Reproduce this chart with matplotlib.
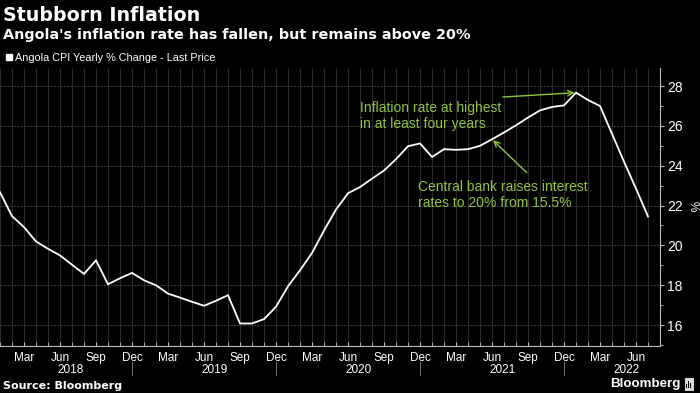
import matplotlib
matplotlib.use('Agg')
import matplotlib.pyplot as plt
from matplotlib.ticker import FixedLocator, MultipleLocator
from matplotlib.patches import Rectangle
from matplotlib.lines import Line2D

# Angola CPI yearly % change, monthly Jan 2018 .. Jul 2022
start_year = 2018
cpi = [22.67, 21.47, 20.92, 20.20, 19.83, 19.50, 19.03, 18.57, 19.25, 18.05, 18.35, 18.62,
       18.25, 18.00, 17.58, 17.38, 17.17, 16.97, 17.22, 17.50, 16.08, 16.08, 16.30, 16.92,
       17.95, 18.75, 19.62, 20.75, 21.80, 22.62, 22.93, 23.35, 23.76, 24.33, 24.98, 25.12,
       24.44, 24.83, 24.80, 24.83, 25.00, 25.33, 25.67, 26.03, 26.42, 26.78, 26.95, 27.03,
       27.67, 27.30, 27.00, 25.60, 24.20, 22.85, 21.45]
month_names = ['Jan', 'Feb', 'Mar', 'Apr', 'May', 'Jun',
               'Jul', 'Aug', 'Sep', 'Oct', 'Nov', 'Dec']
quarter_months = ['Mar', 'Jun', 'Sep', 'Dec']
years = [2018, 2019, 2020, 2021, 2022]
y_ticks = [16, 18, 20, 22, 24, 26, 28]

title = 'Stubborn Inflation'
subtitle = "Angola's inflation rate has fallen, but remains above 20%"
series_name = 'Angola CPI Yearly % Change - Last Price'
note_peak = 'Inflation rate at highest\nin at least four years'
note_hike = 'Central bank raises interest\nrates to 20% from 15.5%'
hike_month = (2021, 'Jun')

GREEN = '#8fc63e'
GRID = '#2a2a2a'
AXIS = '#bdbdbd'
NARROW = ['Liberation Sans', 'DejaVu Sans']

x = list(range(len(cpi)))
labels = [month_names[i % 12] for i in x]

fig = plt.figure(figsize=(7.0, 3.93), dpi=100, facecolor='black')
ax = fig.add_axes([0.0, 0.1196, 0.9429, 0.707], facecolor='black')

ax.plot(x, cpi, color='white', lw=1.3, solid_joinstyle='miter', zorder=3)

ax.set_xlim(0, 55)
ax.set_ylim(14.95, 28.9)

# x axis: a grid line every month, labels each quarter
qpos = [i for i in x if labels[i] in quarter_months]
ax.xaxis.set_major_locator(FixedLocator(qpos))
ax.set_xticklabels([labels[i] for i in qpos], family=NARROW, fontsize=8.5, color='white')
ax.xaxis.set_minor_locator(MultipleLocator(1))
ax.tick_params(axis='x', which='both', direction='in', length=3, color=AXIS, pad=4)

# y axis on the right
ax.yaxis.tick_right()
ax.set_yticks(y_ticks)
ax.set_yticklabels([str(v) for v in y_ticks], family=NARROW, fontsize=10, color='white')
ax.yaxis.set_minor_locator(MultipleLocator(1))
ax.tick_params(axis='y', which='major', direction='out', length=3, color=AXIS, pad=2)
ax.tick_params(axis='y', which='minor', direction='out', length=2, color=AXIS)
# unit label sits right of the tick labels, level with 22
fig.text(693 / 700, 1 - 206 / 393, '%', rotation=270, color='white', fontsize=8.5,
         family=NARROW, ha='center', va='center')

ax.grid(axis='x', which='both', color=GRID, lw=0.8)
ax.grid(axis='y', which='major', color='#383838', lw=0.8, ls=(0, (2, 1)))

for side in ['left', 'top']:
    ax.spines[side].set_visible(False)
ax.spines['right'].set_color(AXIS)
ax.spines['bottom'].set_color(AXIS)

# year labels and separators under the month labels
for k, yr in enumerate(years):
    pos = 12 * k + 5.9
    if yr == years[-1]:
        pos = 52.2
    ax.text(pos, -0.085, str(yr), transform=ax.get_xaxis_transform(),
            ha='center', va='center', color='white', fontsize=8.5, family=NARROW)
    if k > 0:
        sep = 12 * k - 1
        ax.plot([sep, sep], [-0.058, -0.104], transform=ax.get_xaxis_transform(),
                color='#6a6a6a', lw=0.8, clip_on=False)

# annotations
peak = cpi.index(max(cpi))
hike = (hike_month[0] - start_year) * 12 + month_names.index(hike_month[1])
ax.text(30.0, 26.5, note_peak, color=GREEN, fontsize=10, family=NARROW,
        va='center', ha='left', linespacing=1.2)
ax.annotate('', xy=(peak, cpi[peak]), xytext=(41.9, 27.45),
            arrowprops=dict(arrowstyle='->', color=GREEN, lw=1.0,
                            shrinkA=0, shrinkB=1))
ax.text(34.8, 22.55, note_hike, color=GREEN, fontsize=10, family=NARROW,
        va='center', ha='left', linespacing=1.2)
ax.annotate('', xy=(hike, cpi[hike]), xytext=(43.9, 23.65),
            arrowprops=dict(arrowstyle='->', color=GREEN, lw=1.0,
                            shrinkA=0, shrinkB=1))

# header
fig.text(0.004, 1 - 21 / 393, title, color='white', fontsize=13.7,
         fontweight='bold', va='baseline', ha='left')
fig.text(0.004, 1 - 39.5 / 393, subtitle, color='white', fontsize=10.4,
         fontweight='bold', va='baseline', ha='left')
leg = ax.legend(handles=[Line2D([], [], marker='s', color='white', ls='none', markersize=5)],
                labels=[series_name], loc='center left', bbox_to_anchor=(0.008, 1 - 58 / 393),
                bbox_transform=fig.transFigure, frameon=False, handlelength=0.7,
                handletextpad=0.2, borderpad=0, borderaxespad=0,
                prop={'family': NARROW, 'size': 7.8})
for t in leg.get_texts():
    t.set_color('white')

# footer
fig.text(0.004, 1 - 386 / 393, 'Source: Bloomberg', color='white', fontsize=8,
         fontweight='bold', va='center', ha='left')
fig.text(0.972, 1 - 384 / 393, 'Bloomberg', color='white', fontsize=9.6,
         fontweight='bold', va='center', ha='right', family=NARROW)
fig.patches.append(Rectangle((0.978, 1 - 391 / 393), 0.013, 13 / 393,
                             transform=fig.transFigure, facecolor='#d8d8d8',
                             edgecolor='none'))
for i, h in enumerate([4, 7, 5]):
    fig.patches.append(Rectangle((0.9805 + i * 0.0028, 1 - 388 / 393), 0.0016, h / 393,
                                 transform=fig.transFigure, facecolor='black',
                                 edgecolor='none'))

fig.savefig('out.png', dpi=100, facecolor='black')
plt.close()
